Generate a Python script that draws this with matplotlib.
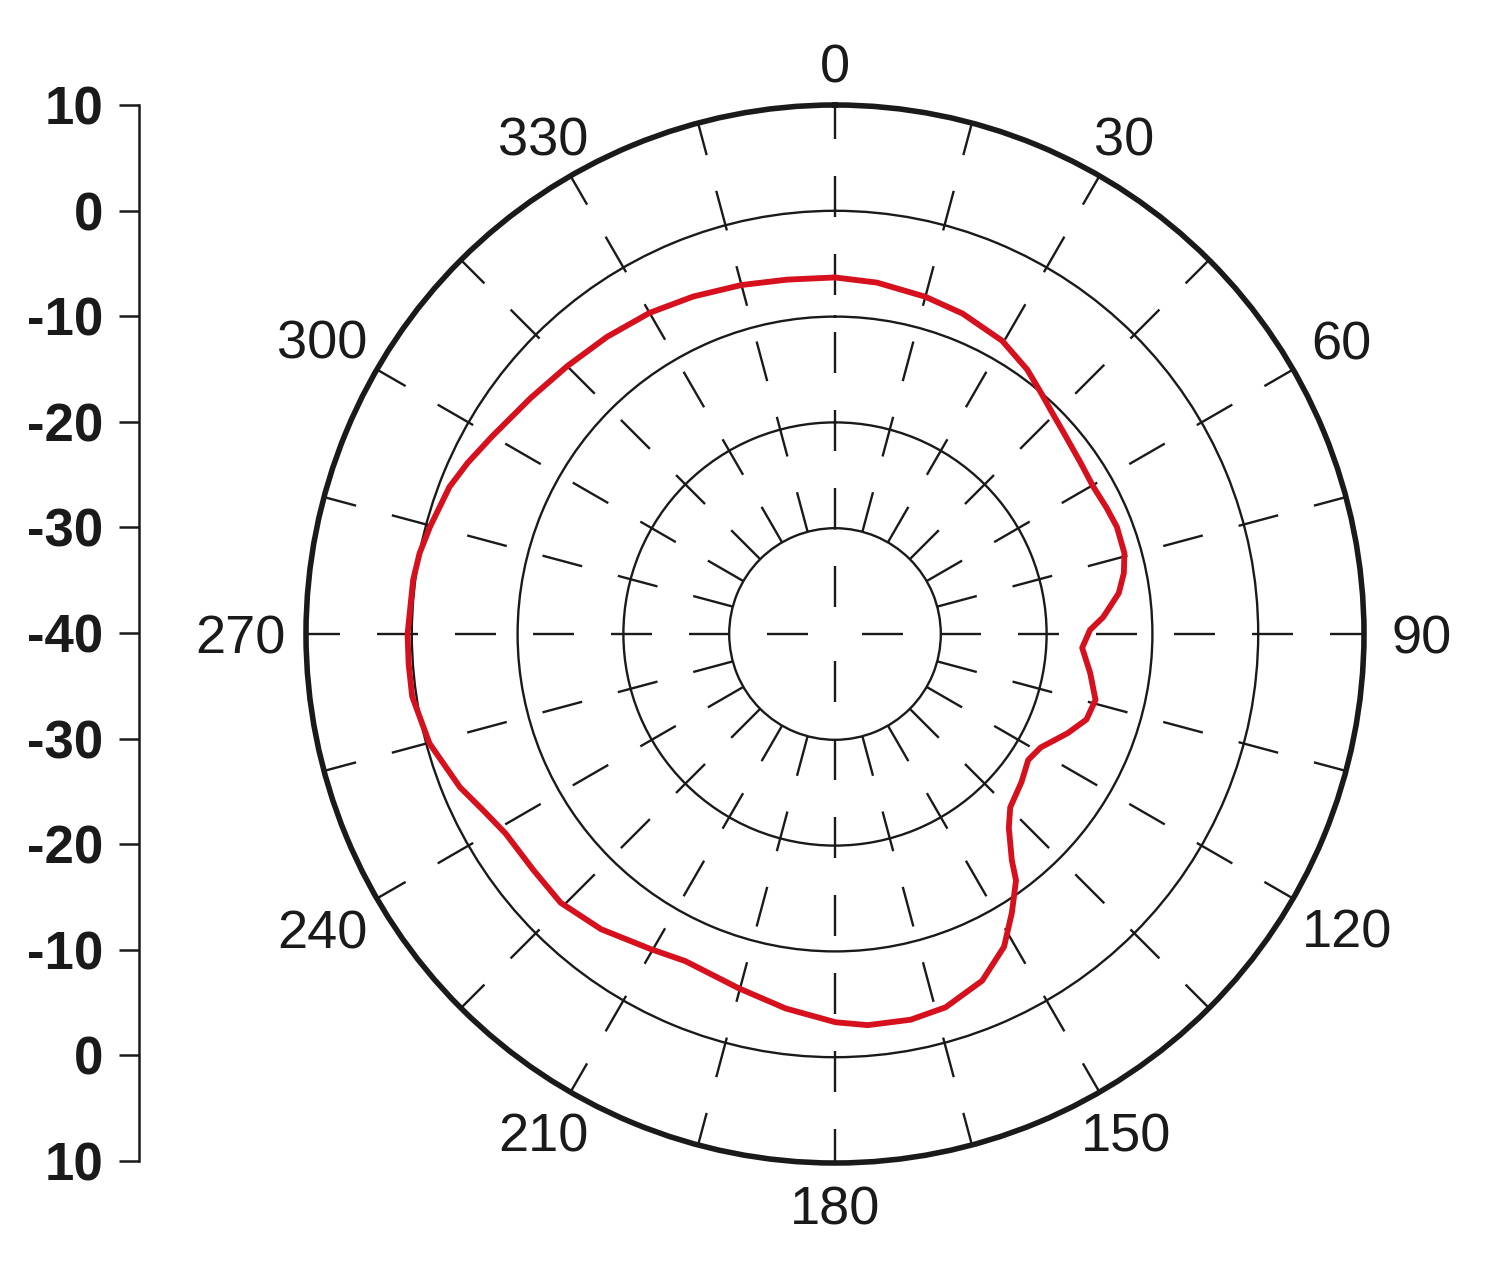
import numpy as np
import matplotlib

matplotlib.use("Agg")
import matplotlib.pyplot as plt

# measured pattern: azimuth in degrees, gain in dB
angles = [
    0, 6.8, 15, 21.7, 29.7, 36, 40.4, 44.5, 48.6, 55.1, 60.3, 65, 69.2, 74.4,
    78.1, 81.8, 86.4, 89.1, 93.2, 98.7, 104.2, 108.8, 113.1, 118.9, 123.1,
    128.4, 134.7, 138.1, 142, 143.7, 147.6, 151.6, 157, 163.5, 168.9, 175.2,
    179.9, 187.5, 195.2, 204.6, 210.3, 218.4, 225.6, 232, 238.8, 243.4, 247.8,
    254.9, 261.6, 266, 270, 277.3, 281, 284.8, 290.9, 295, 300, 307.8, 315,
    322.5, 330, 337.2, 345, 352.3, 360,
]
gains = [
    -6.3, -6.55, -7.0, -7.4, -8.1, -9.1, -10.0, -10.7, -11.2, -11.7, -11.9,
    -11.7, -11.5, -11.6, -12.1, -12.9, -14.6, -15.9, -16.6, -15.6, -14.6,
    -14.9, -16.1, -17.8, -18.2, -17.5, -16.7, -15.4, -12.85, -11.1, -8.8,
    -6.4, -4.4, -3.2, -2.85, -2.9, -3.3, -4.3, -5.3, -6.0, -5.5, -4.4, -3.7,
    -3.8, -3.6, -2.8, -1.7, -0.3, 0.4, 0.4, 0.4, 0.2, 0.0, -0.4, -1.0, -1.7,
    -2.6, -3.6, -4.2, -4.6, -4.95, -5.4, -5.85, -6.2, -6.3,
]

rings = [-30, -20, -10, 0]
r_min, r_max = -40, 10
theta_labels = list(range(0, 360, 30))

# left scale reads along a diameter: top edge, centre, bottom edge
scale_pos = list(range(-50, 51, 10))
scale_labels = ["10", "0", "-10", "-20", "-30", "-40", "-30", "-20", "-10", "0", "10"]

INK = "#1a1a1a"
RED = "#d7101e"

plt.rcParams["font.family"] = ["Liberation Sans", "DejaVu Sans"]
plt.rcParams["lines.scale_dashes"] = False

W, H = 1500, 1270
fig = plt.figure(figsize=(W / 100, H / 100), dpi=100)
pt = 72 / 100  # px -> pt at 100 dpi

# polar plot, centre at (835, 634) px, outer radius 529 px
R = 529
ax = fig.add_axes(
    [(835 - R) / W, (H - 634 - R) / H, 2 * R / W, 2 * R / H], projection="polar"
)
ax.set_theta_zero_location("N")
ax.set_theta_direction(-1)
ax.set_ylim(r_min, r_max)
ax.set_xticks([])
ax.set_yticks(rings)
ax.set_yticklabels([])
ax.yaxis.grid(True, color=INK, lw=1.7)
ax.spines["polar"].set_linewidth(4.0)
ax.spines["polar"].set_color(INK)

# dashed spokes every 15 deg
on, off = 41 * pt, 37 * pt
for a in range(0, 360, 15):
    t = np.deg2rad(a)
    if a % 90 == 0:
        ax.plot([t, t], [r_min, r_max], color=INK, lw=1.7,
                ls=(51 * pt, (on, off)), zorder=1)
    else:
        ax.plot([t, t], [rings[0], r_max], color=INK, lw=1.7,
                ls=(0, (on, off)), zorder=1)

ax.plot(np.deg2rad(angles), gains, color=RED, lw=4.2, zorder=3,
        solid_joinstyle="round", solid_capstyle="round")

# azimuth labels outside the rim, pushed out a little on the diagonals
r_lab = r_min + 571 / R * (r_max - r_min)
for a in theta_labels:
    s, c = np.sin(np.deg2rad(a)), np.cos(np.deg2rad(a))
    half_w = 14.5 * len(str(a))
    dx = 0.55 * half_w * s * abs(s)
    dy = 12 * s * s * np.sign(np.round(c, 6))
    ax.annotate(str(a), (np.deg2rad(a), r_lab), xytext=(dx * pt, dy * pt),
                textcoords="offset points", ha="center", va="center_baseline",
                fontsize=39, color=INK, annotation_clip=False)

# left dB scale
axl = fig.add_axes([139 / W, (H - 1161) / H, 0.002, 1056 / H])
axl.set_ylim(scale_pos[0], scale_pos[-1])
axl.set_yticks(scale_pos[::-1])
axl.set_yticklabels(scale_labels, fontsize=38, fontweight="bold", color=INK)
axl.tick_params(axis="y", length=20 * pt, width=1.8, pad=16 * pt, color=INK)
axl.xaxis.set_visible(False)
axl.spines[["right", "top", "bottom"]].set_visible(False)
axl.spines["left"].set_linewidth(1.8)
axl.spines["left"].set_color(INK)
axl.patch.set_visible(False)

fig.savefig("out.png", dpi=100)
